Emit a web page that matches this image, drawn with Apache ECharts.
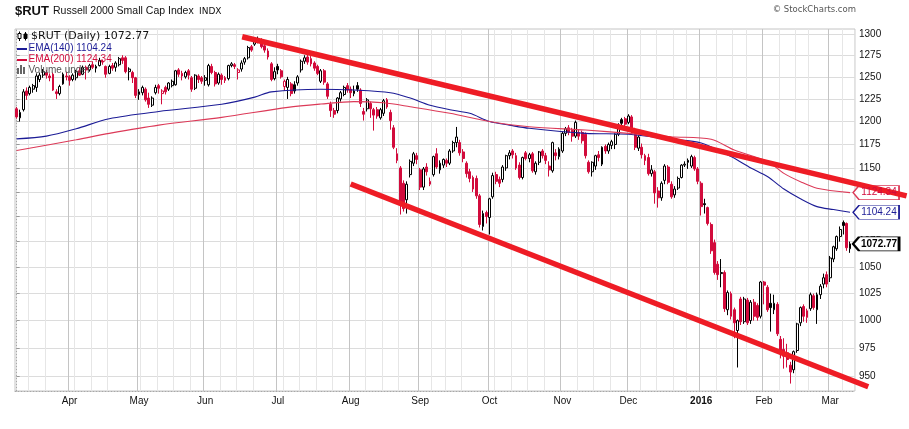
<!DOCTYPE html>
<html>
<head>
<meta charset="utf-8">
<title>$RUT Russell 2000 Small Cap Index</title>
<script src="https://cdn.jsdelivr.net/npm/echarts@6.0.0/dist/echarts.min.js"></script>
<style>
  html, body { margin: 0; padding: 0; background: #fff; }
  #chart { width: 909px; height: 429px; }
</style>
</head>
<body>
<div id="chart"></div>
<script>
// trading calendar, 10 Mar 2015 .. 10 Mar 2016 (last slot is left empty)
const holidays = ['2015-04-03', '2015-05-25', '2015-07-03', '2015-09-07', '2015-11-26',
  '2015-12-25', '2016-01-01', '2016-01-18', '2016-02-15'];
const monthNames = ['Jan', 'Feb', 'Mar', 'Apr', 'May', 'Jun', 'Jul', 'Aug', 'Sep', 'Oct', 'Nov', 'Dec'];
const yTicks = [950, 975, 1000, 1025, 1050, 1075, 1100, 1125, 1150, 1175, 1200, 1225, 1250, 1275, 1300];

// daily candles: [open, close, low, high]
const mar15 = [
  [1214, 1205, 1203, 1216], [1204, 1210, 1200, 1213], [1213, 1233, 1211, 1236], [1234, 1229, 1224, 1238],
  [1231, 1238, 1229, 1240], [1236, 1240, 1232, 1242], [1238, 1251, 1233, 1254], [1247, 1252, 1244, 1255],
  [1252, 1256, 1249, 1259], [1255, 1252, 1248, 1258], [1251, 1249, 1245, 1254], [1253, 1235, 1234, 1255],
  [1233, 1231, 1225, 1236], [1231, 1239, 1229, 1241], [1242, 1253, 1241, 1255], [1251, 1250, 1246, 1256]
];
const apr15 = [
  [1250, 1246, 1240, 1252], [1247, 1252, 1245, 1254], [1249, 1256, 1246, 1258], [1257, 1252, 1251, 1261],
  [1253, 1261, 1252, 1263], [1261, 1258, 1247, 1263], [1258, 1263, 1256, 1265], [1264, 1261, 1259, 1268],
  [1260, 1262, 1255, 1264], [1263, 1269, 1262, 1272], [1268, 1267, 1264, 1270], [1262, 1253, 1249, 1263],
  [1254, 1262, 1253, 1264], [1263, 1260, 1257, 1266], [1261, 1266, 1256, 1268], [1264, 1271, 1262, 1273],
  [1272, 1269, 1265, 1275], [1272, 1256, 1254, 1274], [1256, 1259, 1246, 1261], [1255, 1249, 1243, 1257],
  [1249, 1229, 1226, 1250]
];
const may15 = [
  [1230, 1233, 1224, 1236], [1232, 1238, 1229, 1240], [1236, 1224, 1222, 1238], [1226, 1219, 1215, 1232],
  [1218, 1226, 1216, 1228], [1232, 1238, 1230, 1241], [1240, 1237, 1231, 1242], [1231, 1234, 1219, 1236],
  [1238, 1233, 1230, 1240], [1236, 1243, 1234, 1244], [1240, 1245, 1238, 1247], [1241, 1257, 1240, 1258],
  [1258, 1253, 1250, 1260], [1254, 1251, 1246, 1257], [1250, 1255, 1248, 1257], [1257, 1252, 1247, 1259],
  [1249, 1236, 1233, 1251], [1237, 1252, 1235, 1253], [1251, 1247, 1243, 1253], [1249, 1245, 1242, 1251]
];
const jun15 = [
  [1246, 1249, 1240, 1252], [1241, 1263, 1239, 1265], [1262, 1255, 1253, 1265], [1255, 1242, 1239, 1257],
  [1243, 1253, 1241, 1255], [1252, 1247, 1241, 1254], [1249, 1246, 1243, 1251], [1248, 1263, 1246, 1264],
  [1263, 1265, 1261, 1267], [1264, 1262, 1259, 1266], [1255, 1258, 1247, 1260], [1259, 1266, 1256, 1269],
  [1267, 1271, 1264, 1273], [1272, 1284, 1270, 1286], [1285, 1281, 1279, 1287], [1288, 1291, 1286, 1293],
  [1292, 1294, 1289, 1297], [1293, 1285, 1283, 1295], [1286, 1281, 1278, 1289], [1280, 1273, 1270, 1283],
  [1265, 1247, 1245, 1267], [1248, 1256, 1246, 1261]
];
const jul15 = [
  [1262, 1258, 1253, 1265], [1257, 1250, 1248, 1259], [1239, 1245, 1234, 1247], [1238, 1247, 1225, 1250],
  [1242, 1231, 1228, 1244], [1241, 1234, 1231, 1245], [1243, 1250, 1240, 1252], [1258, 1268, 1255, 1270],
  [1268, 1272, 1265, 1275], [1273, 1267, 1264, 1276], [1271, 1265, 1262, 1274], [1266, 1260, 1257, 1268],
  [1262, 1254, 1252, 1264], [1245, 1257, 1243, 1259], [1257, 1244, 1241, 1259], [1242, 1228, 1225, 1244],
  [1219, 1212, 1205, 1222], [1212, 1208, 1204, 1215], [1212, 1226, 1209, 1227], [1225, 1232, 1222, 1234],
  [1230, 1238, 1228, 1240], [1240, 1235, 1232, 1243]
];
const aug15 = [
  [1236, 1232, 1226, 1239], [1231, 1234, 1228, 1240], [1240, 1236, 1233, 1244], [1235, 1220, 1216, 1237],
  [1211, 1208, 1201, 1215], [1214, 1224, 1211, 1226], [1220, 1214, 1204, 1222], [1213, 1207, 1190, 1215],
  [1213, 1206, 1203, 1216], [1204, 1213, 1202, 1215], [1209, 1223, 1206, 1225], [1224, 1216, 1214, 1226],
  [1210, 1201, 1191, 1213], [1193, 1172, 1170, 1196], [1165, 1158, 1155, 1171], [1150, 1113, 1102, 1152],
  [1134, 1108, 1105, 1137], [1117, 1133, 1103, 1136], [1143, 1157, 1140, 1159], [1155, 1165, 1152, 1167],
  [1163, 1159, 1154, 1166]
];
const sep15 = [
  [1148, 1130, 1127, 1150], [1130, 1149, 1127, 1151], [1151, 1146, 1142, 1155], [1133, 1136, 1131, 1140],
  [1143, 1162, 1141, 1163], [1165, 1151, 1149, 1171], [1148, 1155, 1144, 1158], [1153, 1159, 1150, 1160],
  [1158, 1155, 1151, 1160], [1155, 1168, 1153, 1170], [1168, 1177, 1166, 1179], [1177, 1183, 1172, 1194],
  [1177, 1166, 1163, 1180], [1167, 1160, 1156, 1170], [1155, 1144, 1140, 1157], [1146, 1139, 1135, 1149],
  [1140, 1128, 1125, 1142], [1139, 1121, 1118, 1142], [1121, 1092, 1089, 1123], [1090, 1103, 1086, 1106],
  [1104, 1100, 1093, 1106]
];
const oct15 = [
  [1099, 1118, 1082, 1119], [1120, 1142, 1118, 1145], [1143, 1136, 1133, 1146], [1138, 1134, 1130, 1141],
  [1138, 1151, 1135, 1153], [1150, 1163, 1147, 1164], [1163, 1166, 1159, 1169], [1168, 1164, 1160, 1170],
  [1163, 1150, 1148, 1166], [1153, 1140, 1138, 1156], [1140, 1161, 1138, 1162], [1166, 1160, 1158, 1168],
  [1160, 1164, 1156, 1166], [1165, 1147, 1145, 1167], [1146, 1155, 1143, 1157], [1156, 1167, 1153, 1168],
  [1168, 1163, 1160, 1170], [1163, 1158, 1154, 1166], [1152, 1148, 1141, 1157], [1147, 1177, 1145, 1178],
  [1166, 1163, 1158, 1170], [1162, 1170, 1159, 1172]
];
const nov15 = [
  [1168, 1187, 1166, 1189], [1187, 1192, 1184, 1194], [1193, 1188, 1185, 1196], [1190, 1184, 1178, 1193],
  [1184, 1199, 1182, 1201], [1188, 1184, 1180, 1191], [1188, 1179, 1176, 1190], [1186, 1163, 1160, 1188],
  [1156, 1146, 1144, 1158], [1146, 1156, 1141, 1157], [1152, 1163, 1148, 1164], [1164, 1161, 1157, 1168],
  [1154, 1172, 1152, 1173], [1173, 1168, 1165, 1175], [1168, 1175, 1165, 1177], [1174, 1178, 1170, 1180],
  [1175, 1186, 1170, 1187], [1186, 1196, 1184, 1198], [1202, 1198, 1195, 1204], [1203, 1197, 1194, 1205]
];
const dec15 = [
  [1199, 1206, 1197, 1208], [1205, 1189, 1187, 1207], [1190, 1172, 1169, 1193], [1171, 1183, 1168, 1185],
  [1172, 1164, 1160, 1176], [1163, 1158, 1153, 1165], [1161, 1144, 1142, 1165], [1144, 1148, 1141, 1153],
  [1146, 1124, 1113, 1148], [1126, 1119, 1109, 1130], [1119, 1134, 1116, 1136], [1137, 1152, 1133, 1154],
  [1151, 1135, 1133, 1153], [1133, 1120, 1118, 1136], [1122, 1128, 1119, 1131], [1129, 1139, 1127, 1141],
  [1140, 1153, 1139, 1154], [1153, 1154, 1151, 1157], [1158, 1156, 1149, 1160], [1152, 1162, 1150, 1164],
  [1161, 1149, 1147, 1163], [1149, 1136, 1133, 1151]
];
const jan16 = [
  [1134, 1110, 1101, 1136], [1113, 1112, 1103, 1118], [1109, 1093, 1091, 1110], [1092, 1066, 1063, 1094],
  [1074, 1045, 1043, 1077], [1053, 1043, 1038, 1056], [1044, 1045, 1031, 1058], [1045, 1011, 1008, 1047],
  [1010, 1026, 1005, 1028], [1025, 1004, 1001, 1027], [1010, 998, 984, 1012], [991, 1000, 958, 1001],
  [1020, 999, 996, 1022], [999, 1020, 997, 1022], [1019, 998, 996, 1021], [1000, 1017, 997, 1019],
  [1017, 1004, 1000, 1020], [1014, 1003, 1000, 1016], [1004, 1036, 1002, 1037]
];
const feb16 = [
  [1036, 1033, 1015, 1037], [1031, 1010, 1008, 1033], [1016, 1012, 990, 1025], [1010, 1016, 1006, 1024],
  [1015, 988, 986, 1017], [983, 972, 966, 986], [974, 968, 957, 984], [971, 965, 958, 979],
  [960, 954, 944, 963], [956, 972, 953, 973], [973, 997, 971, 998], [998, 1012, 995, 1013],
  [1013, 1004, 999, 1015], [1009, 1003, 998, 1011], [1011, 1024, 1009, 1026], [1023, 1012, 1010, 1025],
  [1010, 1024, 997, 1026], [1024, 1032, 1020, 1034], [1034, 1040, 1030, 1044], [1043, 1034, 1031, 1046]
];
const mar16 = [
  [1040, 1059, 1036, 1061], [1058, 1070, 1055, 1071], [1068, 1080, 1066, 1081], [1080, 1087, 1075, 1090],
  [1094, 1091, 1082, 1096], [1093, 1069, 1066, 1094], [1068, 1072.77, 1064, 1075]
];

// moving averages at sample dates
const ema140 = [
  ['2015-03-10', 1181], ['2015-03-23', 1184], ['2015-04-06', 1192], ['2015-04-20', 1203],
  ['2015-05-11', 1211], ['2015-06-08', 1219], ['2015-06-22', 1227], ['2015-06-29', 1233],
  ['2015-07-21', 1236], ['2015-08-04', 1235], ['2015-08-19', 1232], ['2015-08-27', 1226],
  ['2015-09-04', 1218], ['2015-09-15', 1213], ['2015-09-23', 1209], ['2015-10-01', 1200],
  ['2015-10-09', 1196], ['2015-10-19', 1192.5], ['2015-11-11', 1187], ['2015-12-01', 1186],
  ['2015-12-18', 1180.6], ['2016-01-04', 1176.6], ['2016-01-15', 1162], ['2016-01-26', 1150],
  ['2016-02-02', 1141], ['2016-02-09', 1128], ['2016-02-17', 1118], ['2016-02-24', 1110],
  ['2016-03-02', 1107], ['2016-03-09', 1104.24]
];
const ema200 = [
  ['2015-03-10', 1168.5], ['2015-04-06', 1180], ['2015-04-20', 1187], ['2015-05-11', 1196],
  ['2015-06-08', 1204.5], ['2015-07-07', 1215.6], ['2015-07-21', 1219.3], ['2015-08-04', 1222],
  ['2015-08-17', 1220.7], ['2015-08-27', 1216.3], ['2015-09-15', 1209], ['2015-10-01', 1200],
  ['2015-10-19', 1194.2], ['2015-11-11', 1190.6], ['2015-12-01', 1187], ['2015-12-18', 1183.3],
  ['2016-01-07', 1180.6], ['2016-01-19', 1169], ['2016-02-02', 1157], ['2016-02-09', 1144.3],
  ['2016-02-17', 1135.6], ['2016-02-24', 1128.8], ['2016-03-09', 1124.34]
];

// hand drawn trend channel: [start day index, start price, end day index, end price]
const upperTrend = [68.2, 1296.8, 269.1, 1120.9];
const lowerTrend = [101.0, 1133.2, 257.5, 941.2];

function tradingDays(from, to) {
  const out = [];
  const d = new Date(from + 'T00:00:00Z');
  const end = new Date(to + 'T00:00:00Z');
  while (d <= end) {
    const s = d.toISOString().slice(0, 10);
    const wd = d.getUTCDay();
    if (wd !== 0 && wd !== 6 && holidays.indexOf(s) < 0) out.push(s);
    d.setUTCDate(d.getUTCDate() + 1);
  }
  return out;
}

const dates = tradingDays('2015-03-10', '2016-03-10');
const ohlc = [].concat(mar15, apr15, may15, jun15, jul15, aug15, sep15, oct15, nov15, dec15, jan16, feb16, mar16);
const lastIdx = ohlc.length - 1;
const lastDate = dates[lastIdx];
const lastClose = ohlc[lastIdx][1];

// black when the close is up on the day before, red when down
const blackData = [], redData = [];
ohlc.forEach(function (d, i) {
  const up = i > 0 && d[1] >= ohlc[i - 1][1];
  blackData.push(up ? d : '-');
  redData.push(up ? '-' : d);
});

const dayOfWeek = dates.map(d => new Date(d + 'T00:00:00Z').getUTCDay());
const monthStart = dates.map((d, i) => i > 0 && d.slice(5, 7) !== dates[i - 1].slice(5, 7));
const weekStart = dates.map((d, i) => i > 0 && dayOfWeek[i] < dayOfWeek[i - 1]);
const weekLine = weekStart.map(function (ws, i) {
  if (!ws) return false;
  for (let j = i; j < dates.length && (j === i || !weekStart[j]); j++) {
    if (monthStart[j]) return false;
  }
  return true;
});

const blue = '#1c1c96';
const crimson = '#d20b3c';
const emaRed = '#dc3a58';
const trendRed = '#ee1c25';

const tagPath = 'path://M0,7L6,0L46,0L46,14L6,14Z';
function tag(value, color, textColor, bold) {
  return {
    silent: true,
    symbol: tagPath,
    symbolSize: [46, 14],
    symbolOffset: [26, 0],
    itemStyle: { color: '#fff', borderColor: color, borderWidth: bold ? 1.6 : 1 },
    label: {
      show: true, position: 'inside', offset: [3, 0], color: textColor,
      fontFamily: 'Liberation Sans', fontSize: 10, fontWeight: bold ? 'bold' : 'normal',
      formatter: value.toFixed(2)
    },
    data: [{ coord: [lastDate, value] }]
  };
}

const last140 = ema140[ema140.length - 1][1];
const last200 = ema200[ema200.length - 1][1];

function txt(x, y, text, size, color, family, weight, align) {
  return {
    type: 'text', x: x, y: y, silent: true, z: 20,
    style: {
      text: text, fill: color, fontSize: size, fontFamily: family,
      fontWeight: weight || 'normal', verticalAlign: 'middle', align: align || 'left'
    }
  };
}
function box(x, y, w, h, fill, stroke) {
  return {
    type: 'rect', silent: true, z: 20,
    shape: { x: x, y: y, width: w, height: h },
    style: { fill: fill, stroke: stroke || null, lineWidth: 1 }
  };
}
function seg(x1, y1, x2, y2, color, width) {
  return {
    type: 'line', silent: true, z: 20,
    shape: { x1: x1, y1: y1, x2: x2, y2: y2 },
    style: { stroke: color, lineWidth: width }
  };
}

const chart = echarts.init(document.getElementById('chart'));

const option = {
  animation: false,
  backgroundColor: '#fff',
  textStyle: { fontFamily: 'Liberation Sans' },
  grid: {
    left: 15, right: 54, top: 29, bottom: 38,
    show: true, borderColor: '#c4c4c4', borderWidth: 1,
    outerBoundsMode: 'none'
  },
  xAxis: [
    {
      type: 'category', data: dates, boundaryGap: true,
      axisLine: { show: true, lineStyle: { color: '#a8a8a8', type: [1, 2] } },
      axisTick: { show: false },
      axisLabel: {
        interval: (i) => monthStart[i],
        color: '#111', fontSize: 10, margin: 5,
        formatter: function (v) {
          const m = +v.slice(5, 7);
          return m === 1 ? '{y|' + v.slice(0, 4) + '}' : monthNames[m - 1];
        },
        rich: { y: { fontWeight: 'bold', fontSize: 10, color: '#111' } }
      },
      splitLine: { show: true, interval: (i) => monthStart[i], lineStyle: { color: '#c4c4c4', width: 1 } }
    },
    {
      type: 'category', data: dates, boundaryGap: true,
      axisLine: { show: false }, axisTick: { show: false }, axisLabel: { show: false },
      splitLine: { show: true, interval: (i) => weekLine[i], lineStyle: { color: '#e6e6e6', width: 1 } }
    },
    { type: 'value', min: -0.5, max: dates.length - 0.5, show: false }
  ],
  yAxis: {
    type: 'log', logBase: 10, position: 'right', min: 937.6, max: 1306,
    axisLine: { show: true, lineStyle: { color: '#a8a8a8', type: [1, 2] } },
    axisTick: { show: true, length: 3, customValues: yTicks, lineStyle: { color: '#999' } },
    axisLabel: {
      customValues: yTicks, color: '#111', fontSize: 10, margin: 4,
      formatter: (v) => String(Math.round(v))
    },
    splitLine: { show: true, lineStyle: { color: '#dcdcdc', width: 1 } },
    minorTick: { show: false }, minorSplitLine: { show: false }
  },
  series: [
    {
      type: 'candlestick', name: 'up', data: blackData, barWidth: 2.4, z: 2,
      silent: true,
      itemStyle: { color: '#fff', color0: '#000', borderColor: '#000', borderColor0: '#000', borderColorDoji: '#000', borderWidth: 1 },
      markPoint: tag(lastClose, '#000', '#000', true)
    },
    {
      type: 'candlestick', name: 'down', data: redData, barWidth: 2.4, z: 2,
      silent: true,
      itemStyle: { color: '#fff', color0: crimson, borderColor: crimson, borderColor0: crimson, borderColorDoji: crimson, borderWidth: 1 }
    },
    {
      type: 'line', name: 'EMA(140)', data: ema140, showSymbol: false, smooth: 0.3, z: 3, silent: true,
      lineStyle: { color: blue, width: 1.1 },
      markPoint: tag(last140, blue, blue, false)
    },
    {
      type: 'line', name: 'EMA(200)', data: ema200, showSymbol: false, smooth: 0.3, z: 3, silent: true,
      lineStyle: { color: emaRed, width: 1.1 },
      markPoint: tag(last200, emaRed, crimson, false)
    },
    {
      // the channel is drawn past the plot edge, like the hand drawn annotation
      type: 'custom', name: 'trend', xAxisIndex: 2, z: 5, silent: true, clip: false,
      data: [upperTrend, lowerTrend],
      encode: { x: [0, 2], y: [1, 3] },
      renderItem: function (params, api) {
        const a = api.coord([api.value(0), api.value(1)]);
        const b = api.coord([api.value(2), api.value(3)]);
        return {
          type: 'line',
          shape: { x1: a[0], y1: a[1], x2: b[0], y2: b[1] },
          style: { stroke: trendRed, lineWidth: 5.5, fill: null }
        };
      }
    }
  ],
  graphic: [
    txt(15, 11, '$RUT', 13, '#111', 'Liberation Sans', 'bold'),
    txt(53, 11, 'Russell 2000 Small Cap Index', 10.5, '#111', 'Liberation Sans'),
    txt(199, 11.5, 'INDX', 9, '#111', 'DejaVu Sans'),
    txt(856, 10, '\u00a9 StockCharts.com', 8.5, '#555', 'DejaVu Sans', 'normal', 'right'),
    // legend
    seg(19.5, 31.5, 19.5, 41, '#000', 1),
    box(18, 33.5, 3, 5, '#fff', '#000'),
    seg(25.5, 32, 25.5, 40.5, '#000', 1),
    box(24, 34, 3, 4.5, '#000', '#000'),
    txt(31, 36.5, '$RUT (Daily) ' + lastClose.toFixed(2), 11, '#111', 'DejaVu Sans'),
    seg(17, 49, 27, 49, blue, 2),
    txt(28.5, 48.5, 'EMA(140) ' + last140.toFixed(2), 10, blue, 'Liberation Sans'),
    seg(17, 60, 27, 60, crimson, 2),
    txt(28.5, 59.5, 'EMA(200) ' + last200.toFixed(2), 10, crimson, 'Liberation Sans'),
    box(17, 68, 2, 6, '#666'),
    box(20, 65, 2, 9, '#666'),
    box(23, 67, 2, 7, '#666'),
    txt(28.5, 70.5, 'Volume undef', 10, '#555', 'Liberation Sans')
  ]
};

chart.setOption(option);
</script>
</body>
</html>
